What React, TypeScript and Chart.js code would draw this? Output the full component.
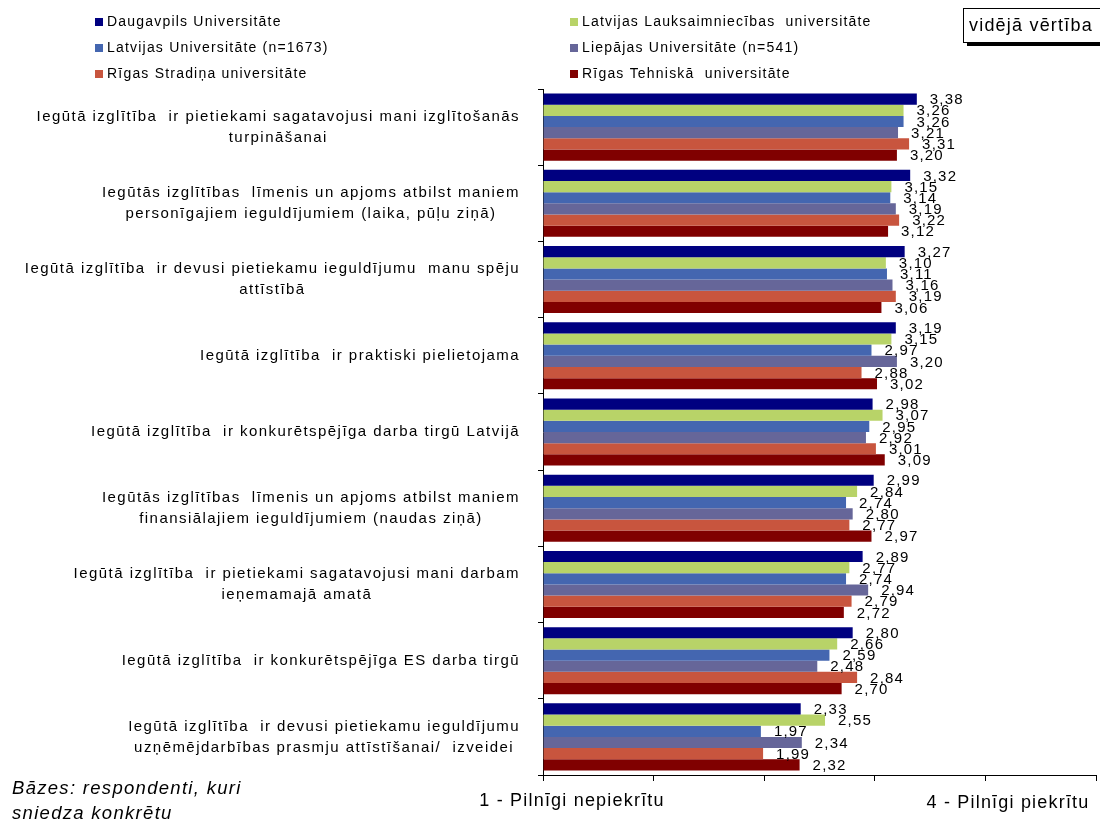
import { useEffect, useRef } from 'react';
import { Chart, registerables } from 'chart.js';

Chart.register(...registerables);

const FONT = '"Liberation Sans", Arial, sans-serif';

const categories: string[][] = [
  ['Iegūtā izglītība  ir pietiekami sagatavojusi mani izglītošanās', 'turpināšanai'],
  ['Iegūtās izglītības  līmenis un apjoms atbilst maniem', 'personīgajiem ieguldījumiem (laika, pūļu ziņā)'],
  ['Iegūtā izglītība  ir devusi pietiekamu ieguldījumu  manu spēju', 'attīstībā'],
  ['Iegūtā izglītība  ir praktiski pielietojama'],
  ['Iegūtā izglītība  ir konkurētspējīga darba tirgū Latvijā'],
  ['Iegūtās izglītības  līmenis un apjoms atbilst maniem', 'finansiālajiem ieguldījumiem (naudas ziņā)'],
  ['Iegūtā izglītība  ir pietiekami sagatavojusi mani darbam', 'ieņemamajā amatā'],
  ['Iegūtā izglītība  ir konkurētspējīga ES darba tirgū'],
  ['Iegūtā izglītība  ir devusi pietiekamu ieguldījumu', 'uzņēmējdarbības prasmju attīstīšanai/  izveidei'],
];

const seriesNames = [
  'Daugavpils Universitāte',
  'Latvijas Lauksaimniecības  universitāte',
  'Latvijas Universitāte (n=1673)',
  'Liepājas Universitāte (n=541)',
  'Rīgas Stradiņa universitāte',
  'Rīgas Tehniskā  universitāte',
];

const seriesColors = ['#000080', '#b8d368', '#4466b0', '#666699', '#c8553e', '#800000'];

const daugavpils = [3.38, 3.32, 3.27, 3.19, 2.98, 2.99, 2.89, 2.8, 2.33];
const llu = [3.26, 3.15, 3.1, 3.15, 3.07, 2.84, 2.77, 2.66, 2.55];
const lu = [3.26, 3.14, 3.11, 2.97, 2.95, 2.74, 2.74, 2.59, 1.97];
const liepaja = [3.21, 3.19, 3.16, 3.2, 2.92, 2.8, 2.94, 2.48, 2.34];
const rsu = [3.31, 3.22, 3.19, 2.88, 3.01, 2.77, 2.79, 2.84, 1.99];
const rtu = [3.2, 3.12, 3.06, 3.02, 3.09, 2.97, 2.72, 2.7, 2.32];

const seriesValues = [daugavpils, llu, lu, liepaja, rsu, rtu];

const axisMin = 0;
const axisMax = 5;
const axisLabelLeft = '1 - Pilnīgi nepiekrītu';
const axisLabelRight = '4 - Pilnīgi piekrītu';
const boxText = 'vidējā vērtība';
const baseNote = ['Bāzes: respondenti, kuri', 'sniedza konkrētu'];

const fmt = (v: number) => v.toFixed(2).replace('.', ',');

function setSpacing(ctx: any, s: string) {
  if ('letterSpacing' in ctx) ctx.letterSpacing = s;
}

const overlay = {
  id: 'overlay',
  afterDraw(chart: any) {
    const ctx = chart.ctx as CanvasRenderingContext2D;
    const area = chart.chartArea;
    const yScale = chart.scales.y;
    ctx.save();
    ctx.fillStyle = '#000';
    ctx.textBaseline = 'middle';

    // category labels: block right-aligned, lines centered within block
    ctx.font = `15px ${FONT}`;
    setSpacing(ctx, '1.45px');
    const rightEdge = area.left - 23;
    const lineH = 21;
    (chart.data.labels as string[][]).forEach((lines, i) => {
      const cy = yScale.getPixelForValue(i);
      const widths = lines.map((l) => ctx.measureText(l).width);
      const bw = Math.max(...widths);
      const cx = rightEdge - bw / 2;
      ctx.textAlign = 'center';
      const top = cy - ((lines.length - 1) * lineH) / 2;
      lines.forEach((l, k) => ctx.fillText(l, cx, top + k * lineH));
    });

    // value labels
    ctx.font = `15px ${FONT}`;
    setSpacing(ctx, '1.2px');
    ctx.textAlign = 'left';
    chart.data.datasets.forEach((ds: any, di: number) => {
      const meta = chart.getDatasetMeta(di);
      meta.data.forEach((bar: any, i: number) => {
        ctx.fillText(fmt(ds.data[i]), bar.x + 13, bar.y + 1);
      });
    });

    // legend (2 columns, row-major)
    ctx.font = `14px ${FONT}`;
    setSpacing(ctx, '1.2px');
    const colX = [95, 570];
    const rowY = [22, 48, 74];
    chart.data.datasets.forEach((ds: any, di: number) => {
      const x = colX[di % 2];
      const y = rowY[Math.floor(di / 2)];
      ctx.fillStyle = ds.backgroundColor;
      ctx.fillRect(x, y - 4, 8, 8);
      ctx.fillStyle = '#000';
      ctx.fillText(ds.label, x + 12, y);
    });

    // "vidējā vērtība" box with shadow
    ctx.fillStyle = '#000';
    ctx.fillRect(967, 12, 150, 34);
    ctx.fillStyle = '#fff';
    ctx.fillRect(963, 8, 150, 34);
    ctx.strokeStyle = '#000';
    ctx.lineWidth = 1;
    ctx.strokeRect(963.5, 8.5, 150, 34);
    ctx.fillStyle = '#000';
    ctx.font = `18px ${FONT}`;
    setSpacing(ctx, '1.2px');
    ctx.fillText(boxText, 969, 26);

    // axis end labels
    ctx.font = `18px ${FONT}`;
    setSpacing(ctx, '1.2px');
    ctx.textAlign = 'center';
    ctx.fillText(axisLabelLeft, area.left + 29, 801);
    ctx.fillText(axisLabelRight, area.right - 88, 803);

    // base note
    ctx.font = `italic 18.5px ${FONT}`;
    setSpacing(ctx, '1.3px');
    ctx.textAlign = 'left';
    baseNote.forEach((l, k) => ctx.fillText(l, 12, 789 + k * 25));

    ctx.restore();
  },
};

export default function App() {
  const ref = useRef<HTMLCanvasElement>(null);
  useEffect(() => {
    document.body.style.margin = '0';
    const chart = new Chart(ref.current as HTMLCanvasElement, {
      type: 'bar',
      data: {
        labels: categories as any,
        datasets: seriesNames.map((name, i) => ({
          label: name,
          data: seriesValues[i],
          backgroundColor: seriesColors[i],
          borderWidth: 0,
          barPercentage: 1,
          categoryPercentage: 0.88,
        })),
      },
      options: {
        indexAxis: 'y',
        responsive: true,
        maintainAspectRatio: false,
        animation: false,
        layout: { padding: { left: 538, top: 89, right: 4, bottom: 40 } },
        plugins: {
          legend: { display: false },
          tooltip: { enabled: false },
        },
        scales: {
          x: {
            min: axisMin,
            max: axisMax,
            ticks: { display: false, stepSize: 1 },
            grid: { drawOnChartArea: false, color: '#000', tickLength: 6 },
            border: { color: '#000' },
          },
          y: {
            ticks: { display: false },
            grid: { drawOnChartArea: false, color: '#000', tickLength: 5, offset: true },
            border: { color: '#000' },
          },
        },
      },
      plugins: [overlay],
    });
    return () => chart.destroy();
  }, []);
  return (
    <div style={{ width: 1100, height: 821, position: 'relative' }}>
      <canvas ref={ref} />
    </div>
  );
}
